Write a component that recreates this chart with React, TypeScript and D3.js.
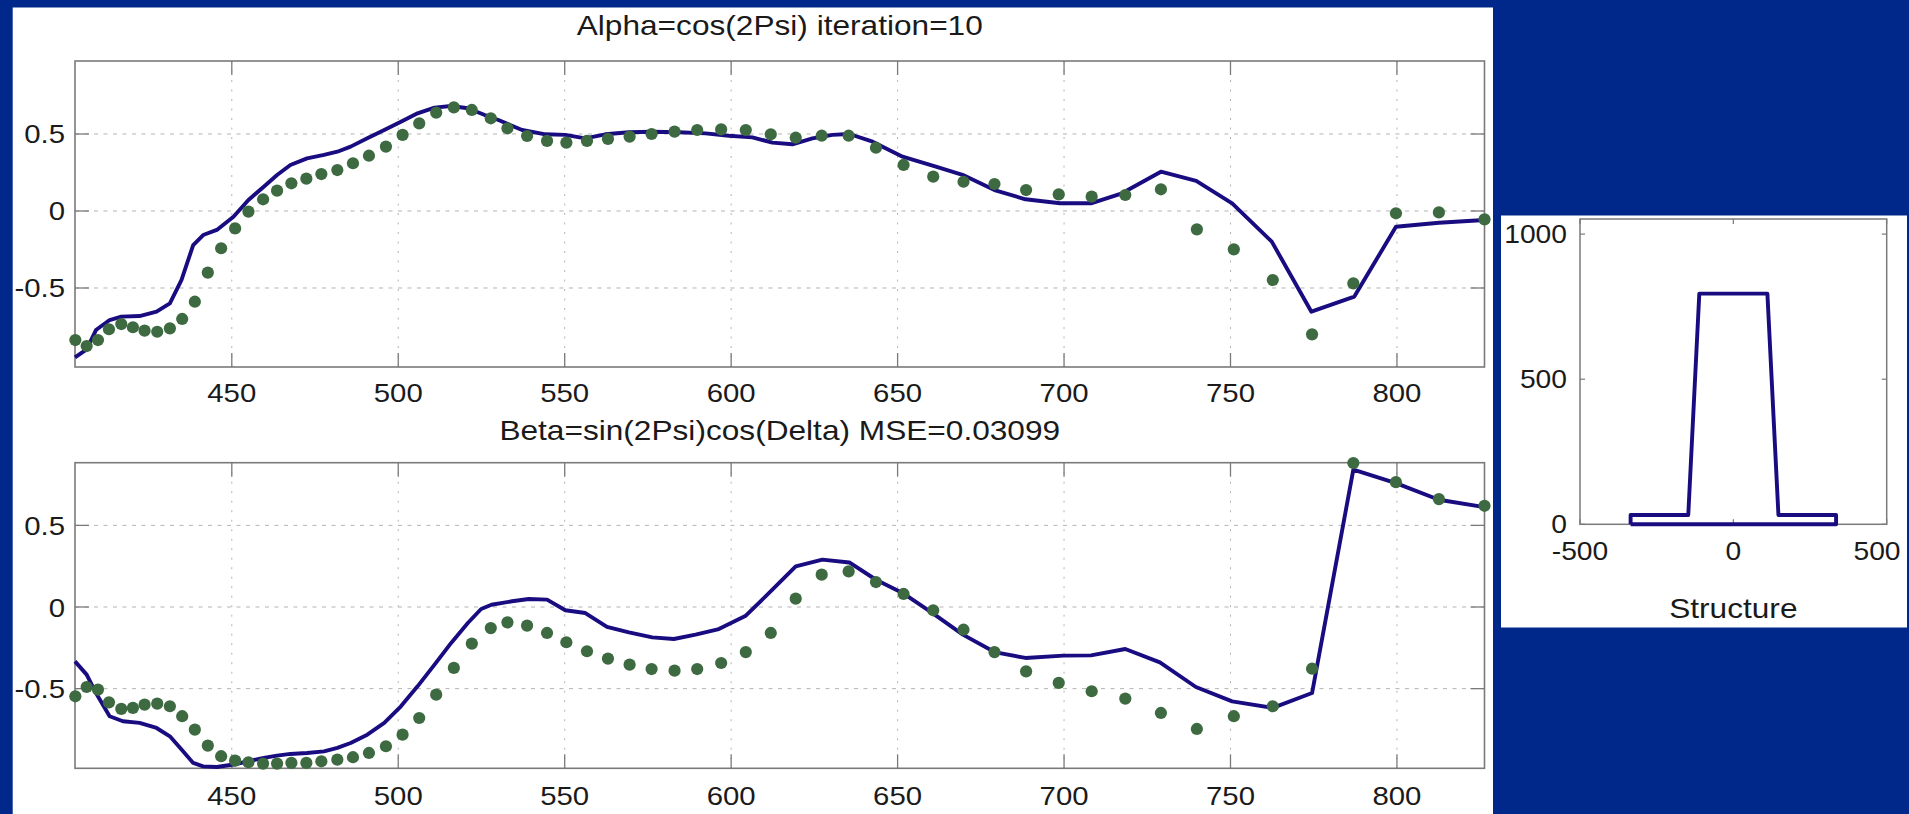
import React from "react";
import * as d3 from "d3";

// wavelength (nm) of the measured points, shared by both panels
const dotWl = [
  403.0, 406.4, 409.8, 413.1, 416.8, 420.3, 423.8, 427.6, 431.4, 435.1,
  438.9, 442.8, 446.8, 451.0, 455.0, 459.4, 463.6, 467.9, 472.4, 476.9,
  481.7, 486.4, 491.2, 496.3, 501.3, 506.3, 511.4, 516.7, 522.1, 527.8,
  532.8, 538.7, 544.7, 550.5, 556.7, 563.0, 569.5, 576.1, 583.0, 589.8,
  597.0, 604.4, 611.9, 619.4, 627.2, 635.3, 643.5, 651.8, 660.7, 669.8,
  679.1, 688.6, 698.4, 708.3, 718.4, 729.1, 739.9, 751.0, 762.7, 774.5,
  786.9, 799.7, 812.6, 826.3,
];

const alphaDots = [
  -0.838, -0.877, -0.838, -0.768, -0.734, -0.755, -0.777, -0.784, -0.762, -0.701,
  -0.589, -0.4, -0.242, -0.113, -0.004, 0.076, 0.132, 0.18, 0.21, 0.24,
  0.266, 0.31, 0.359, 0.418, 0.494, 0.569, 0.639, 0.673, 0.656, 0.602,
  0.537, 0.487, 0.455, 0.444, 0.455, 0.468, 0.483, 0.5, 0.515, 0.526,
  0.53, 0.526, 0.498, 0.476, 0.489, 0.489, 0.411, 0.299, 0.223, 0.19,
  0.175, 0.136, 0.108, 0.093, 0.104, 0.141, -0.119, -0.249, -0.448, -0.801,
  -0.47, -0.015, -0.009, -0.054,
];

const betaDots = [
  -0.547, -0.49, -0.506, -0.584, -0.624, -0.618, -0.598, -0.592, -0.608, -0.669,
  -0.751, -0.849, -0.914, -0.941, -0.951, -0.959, -0.959, -0.955, -0.955, -0.945,
  -0.935, -0.92, -0.894, -0.853, -0.782, -0.68, -0.537, -0.373, -0.224, -0.129,
  -0.094, -0.114, -0.159, -0.216, -0.271, -0.316, -0.353, -0.38, -0.39, -0.38,
  -0.343, -0.276, -0.159, 0.051, 0.198, 0.218, 0.153, 0.08, -0.02, -0.139,
  -0.276, -0.394, -0.465, -0.516, -0.561, -0.649, -0.747, -0.669, -0.608, -0.378,
  0.882, 0.765, 0.661, 0.62,
];

// fitted curves
const alphaLineWl = [
  402.9, 406.4, 409.2, 413.3, 416.8, 422.3, 427.4, 431.4, 434.9, 438.4,
  441.4, 445.5, 450.5, 455.0, 459.6, 463.6, 467.6, 472.6, 477.7, 481.7,
  485.7, 490.7, 495.8, 500.8, 505.8, 510.9, 515.9, 520.9, 526.0, 530.1,
  537.2, 544.2, 550.2, 556.2, 562.2, 569.3, 576.3, 584.3, 592.3, 599.3,
  606.4, 612.4, 618.4, 624.4, 630.4, 635.5, 642.5, 651.5, 661.5, 669.5,
  679.1, 688.4, 698.8, 708.1, 717.4, 729.1, 739.7, 750.5, 762.4, 774.3,
  787.2, 799.7, 812.6, 826.3,
];
const alphaLine = [
  -0.95, -0.898, -0.773, -0.708, -0.686, -0.682, -0.654, -0.6, -0.448, -0.221,
  -0.156, -0.123, -0.037, 0.071, 0.158, 0.234, 0.299, 0.342, 0.364, 0.385,
  0.418, 0.472, 0.526, 0.58, 0.634, 0.671, 0.682, 0.667, 0.623, 0.591,
  0.526, 0.498, 0.494, 0.472, 0.498, 0.511, 0.515, 0.511, 0.504, 0.489,
  0.478, 0.444, 0.433, 0.472, 0.494, 0.5, 0.45, 0.353, 0.288, 0.235,
  0.136, 0.076, 0.05, 0.05, 0.115, 0.255, 0.195, 0.05, -0.199, -0.654,
  -0.556, -0.102, -0.076, -0.058,
];

const betaLineWl = [
  402.9, 406.4, 409.2, 413.3, 417.3, 422.3, 427.4, 431.4, 434.9, 438.4,
  441.4, 445.5, 450.5, 455.0, 459.6, 463.6, 467.6, 472.6, 477.7, 481.7,
  485.7, 490.7, 495.8, 500.8, 505.8, 510.9, 515.9, 520.9, 524.9, 528.0,
  534.2, 539.2, 544.7, 550.2, 556.2, 562.7, 569.3, 576.3, 582.8, 589.3,
  596.3, 604.4, 611.4, 619.4, 627.4, 635.5, 643.5, 651.5, 660.5, 669.6,
  679.1, 688.4, 699.8, 708.1, 718.4, 728.8, 739.6, 750.5, 762.7, 774.5,
  786.9, 799.7, 812.6, 826.3,
];
const betaLine = [
  -0.333, -0.414, -0.527, -0.669, -0.7, -0.71, -0.741, -0.792, -0.873, -0.955,
  -0.976, -0.98, -0.965, -0.945, -0.924, -0.91, -0.9, -0.894, -0.884, -0.863,
  -0.833, -0.782, -0.71, -0.608, -0.486, -0.353, -0.22, -0.098, -0.012, 0.014,
  0.035, 0.049, 0.045, -0.02, -0.037, -0.122, -0.155, -0.186, -0.196, -0.169,
  -0.135, -0.053, 0.086, 0.249, 0.29, 0.273, 0.167, 0.086, -0.037, -0.169,
  -0.276, -0.312, -0.298, -0.296, -0.257, -0.339, -0.49, -0.578, -0.618, -0.527,
  0.841, 0.759, 0.657, 0.612,
];

const xTicks = [450, 500, 550, 600, 650, 700, 750, 800];
const yTicks = [-0.5, 0, 0.5];

// layer structure profile
const structX = [-335, -335, -147, -111, 111, 147, 335, 335, -335];
const structY = [0, 32, 32, 795, 795, 32, 32, 0, 0];
const structXTicks = [-500, 0, 500];
const structYTicks = [0, 500, 1000];

const W = 1909;
const H = 814;
const BG = "#00288a";
const LINE = "#180c80";
const DOT = "#3d6a40";
const BOX = "#7a7a7a";
const GRID = "#b4b4b4";
const FONT = "'Liberation Sans', Arial, Helvetica, sans-serif";
const STRETCH = 1.13;

function Txt({ x, y, anchor = "middle", size = 26, children }: any) {
  return (
    <text
      transform={`translate(${x},${y}) scale(${STRETCH},1)`}
      textAnchor={anchor}
      fontSize={size}
      fontFamily={FONT}
      fill="#1a1a1a"
    >
      {children}
    </text>
  );
}

const fmt = (v: number) => (v === 0 ? "0" : String(v));

function Panel({ top, bottom, yDomain, title, titleY, labelY, lineWl, lineVals, dots }: any) {
  const left = 75;
  const right = 1484.5;
  const x = d3.scaleLinear().domain([402.9, 826.3]).range([left, right]);
  const y = d3.scaleLinear().domain(yDomain).range([bottom, top]);
  const tick = 14;

  const line = d3
    .line<number>()
    .x((_, i) => x(lineWl[i]))
    .y((d) => y(d));

  return (
    <g>
      <Txt x={(left + right) / 2} y={titleY} size={28}>
        {title}
      </Txt>
      {/* grid */}
      {xTicks.map((t) => (
        <line key={"gx" + t} x1={x(t)} x2={x(t)} y1={top} y2={bottom} stroke={GRID} strokeWidth={1} strokeDasharray="2 7.5" />
      ))}
      {yTicks.map((t) => (
        <line key={"gy" + t} x1={left} x2={right} y1={y(t)} y2={y(t)} stroke={GRID} strokeWidth={1} strokeDasharray="4 5.5" />
      ))}
      {/* ticks */}
      {xTicks.map((t) => (
        <g key={"tx" + t}>
          <line x1={x(t)} x2={x(t)} y1={bottom} y2={bottom - tick} stroke={BOX} strokeWidth={1.3} />
          <line x1={x(t)} x2={x(t)} y1={top} y2={top + tick} stroke={BOX} strokeWidth={1.3} />
          <Txt x={x(t)} y={labelY}>{t}</Txt>
        </g>
      ))}
      {yTicks.map((t) => (
        <g key={"ty" + t}>
          <line x1={left} x2={left + tick} y1={y(t)} y2={y(t)} stroke={BOX} strokeWidth={1.3} />
          <line x1={right} x2={right - tick} y1={y(t)} y2={y(t)} stroke={BOX} strokeWidth={1.3} />
          <Txt x={65} y={y(t) + 9.5} anchor="end">{fmt(t)}</Txt>
        </g>
      ))}
      <rect x={left} y={top} width={right - left} height={bottom - top} fill="none" stroke={BOX} strokeWidth={1.6} />
      <path d={line(lineVals) || ""} fill="none" stroke={LINE} strokeWidth={3.9} strokeLinejoin="round" />
      {dots.map((v: number, i: number) => (
        <circle key={i} cx={x(dotWl[i])} cy={y(v)} r={6.1} fill={DOT} />
      ))}
    </g>
  );
}

function StructurePanel() {
  const left = 1580;
  const right = 1886.7;
  const top = 219;
  const bottom = 524.3;
  const x = d3.scaleLinear().domain([-500, 500]).range([left, right]);
  const y = d3.scaleLinear().domain([0, 1052]).range([bottom, top]);
  const tick = 5;
  const path = d3
    .line<number>()
    .x((d) => x(d))
    .y((_, i) => y(structY[i]));

  return (
    <g>
      <rect x={1501} y={215.5} width={406} height={412} fill="#fff" />
      {structXTicks.map((t) => (
        <g key={"sx" + t}>
          <line x1={x(t)} x2={x(t)} y1={bottom} y2={bottom - tick} stroke={BOX} strokeWidth={1.2} />
          <line x1={x(t)} x2={x(t)} y1={top} y2={top + tick} stroke={BOX} strokeWidth={1.2} />
          {/* keep the last label inside the white panel */}
          <Txt x={Math.min(x(t), 1877)} y={560} size={25}>{t}</Txt>
        </g>
      ))}
      {structYTicks.map((t) => (
        <g key={"sy" + t}>
          <line x1={left} x2={left + tick} y1={y(t)} y2={y(t)} stroke={BOX} strokeWidth={1.2} />
          <line x1={right} x2={right - tick} y1={y(t)} y2={y(t)} stroke={BOX} strokeWidth={1.2} />
          <Txt x={1567} y={y(t) + 9} anchor="end" size={25}>{t}</Txt>
        </g>
      ))}
      <rect x={left} y={top} width={right - left} height={bottom - top} fill="none" stroke={BOX} strokeWidth={1.5} />
      <path d={path(structX) || ""} fill="none" stroke={LINE} strokeWidth={3.9} strokeLinejoin="round" />
      <Txt x={(left + right) / 2} y={618} size={28}>Structure</Txt>
    </g>
  );
}

export default function App() {
  return (
    <div style={{ position: "absolute", left: 0, top: 0, width: W, height: H, overflow: "hidden" }}>
      <svg width={W} height={H} style={{ display: "block" }}>
        <rect x={0} y={0} width={W} height={H} fill={BG} />
        <rect x={12.7} y={7.5} width={1493 - 12.7} height={H} fill="#fff" />
        <Panel
          top={61}
          bottom={367}
          yDomain={[-1.013, 0.974]}
          title="Alpha=cos(2Psi) iteration=10"
          titleY={35}
          labelY={402}
          lineWl={alphaLineWl}
          lineVals={alphaLine}
          dots={alphaDots}
        />
        <Panel
          top={462.7}
          bottom={768.3}
          yDomain={[-0.988, 0.884]}
          title="Beta=sin(2Psi)cos(Delta) MSE=0.03099"
          titleY={440}
          labelY={805}
          lineWl={betaLineWl}
          lineVals={betaLine}
          dots={betaDots}
        />
        <StructurePanel />
      </svg>
    </div>
  );
}
